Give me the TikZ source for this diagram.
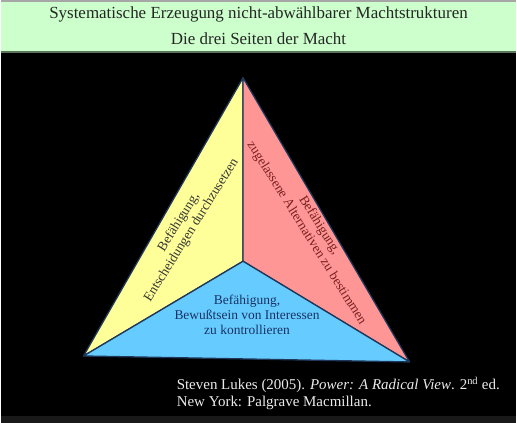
\documentclass[tikz,border=0pt]{standalone}
\usepackage{fontspec}
\setmainfont{Liberation Serif}
\usepackage{xcolor}
\usepackage{tikz}
\usetikzlibrary{positioning, calc}
\definecolor{kopfgruen}{RGB}{204, 255, 204}
\definecolor{seitegelb}{RGB}{255, 255, 153}
\definecolor{seiterot}{RGB}{255, 150, 150}
\definecolor{seiteblau}{RGB}{102, 204, 255}
\definecolor{kante}{RGB}{30, 55, 90}
\definecolor{textrot}{RGB}{120, 30, 30}
\definecolor{textblau}{RGB}{25, 50, 100}

\begin{document}
\begin{tikzpicture}[
    x=1pt, y=1pt,
    font=\fontsize{13.5}{15}\selectfont,
    seite/.style={draw=kante, line width=1.3pt, line join=round},
    etikett/.style={align=center, inner sep=1pt},
    titel/.style={anchor=base, text=black!85, font=\fontsize{17}{20}\selectfont},
    quelle/.style={anchor=base west, text=white!92!black, font=\fontsize{15}{18}\selectfont}
  ]
    % Hintergrund und Kopfzeile
    \fill[black] (0,0) rectangle (517,424);
    \fill[black!90!white] (0,0) rectangle (517,7);
    \fill[kopfgruen] (0,371) rectangle (517,424);
    \draw[black!35, line width=1.5pt] (0,423.2) -- (517,423.2);
    \draw[black!55!kopfgruen, line width=1.5pt] (0,372) -- (517,372);
    \node[titel] (t1) at (258.5,405) {Systematische Erzeugung nicht-abw\"ahlbarer Machtstrukturen};
    \node[titel] (t2) at (258.5,379) {Die drei Seiten der Macht};

    % Pyramide
    \coordinate (spitze) at (243,346);
    \coordinate (links) at (83,67);
    \coordinate (rechts) at (410,61);
    \coordinate (mitte) at (243,162);
    \filldraw[seite, fill=seitegelb] (spitze) -- (mitte) -- (links) -- cycle;
    \filldraw[seite, fill=seiterot] (spitze) -- (rechts) -- (mitte) -- cycle;
    \filldraw[seite, fill=seiteblau] (links) -- (mitte) -- (rechts) -- cycle;

    \node[etikett, rotate=58, text=black!80] (gelb) at (185,197)
      {Bef\"ahigung,\\Entscheidungen durchzusetzen};
    \node[etikett, rotate=-58, text=textrot] (rot) at (313,194)
      {Bef\"ahigung,\\zugelassene Alternativen zu bestimmen};
    \node[etikett, text=textblau] (blau) at (247,108)
      {Bef\"ahigung,\\Bewu\ss tsein von Interessen\\zu kontrollieren};

    % Quellenangabe
    \node[quelle] (q1) at (173,33)
      {Steven Lukes (2005). \textit{Power: A Radical View}. 2\textsuperscript{nd} ed.};
    \node[quelle] (q2) at (173,16) {New York: Palgrave Macmillan.};
  \end{tikzpicture}
\end{document}
